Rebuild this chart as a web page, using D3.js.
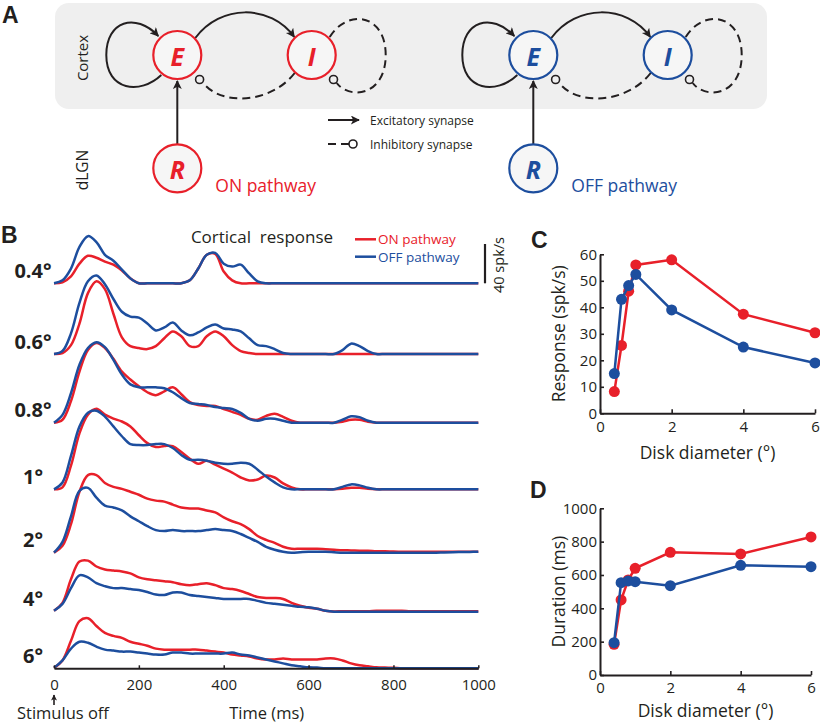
<!DOCTYPE html>
<html><head><meta charset="utf-8">
<script src="https://cdn.jsdelivr.net/npm/d3@7"></script>
<style>
body{margin:0;background:#fff}
svg{display:block}
text{font-family:'Open Sans','Noto Sans',sans-serif;fill:#231f20}
</style>
</head><body>
<svg id="fig" width="820" height="724"></svg>
<script>
// ---------------- DATA ----------------
const timeMs = [0,20,40,60,80,100,120,140,160,180,200,220,240,260,280,300,320,340,360,380,400,
  420,440,460,480,500,520,540,560,580,600,620,640,660,680,700,720,740,760,780,800,
  820,840,860,880,900,920,940,960,980,1000];
const diameterLabels = ["0.4°","0.6°","0.8°","1°","2°","4°","6°"];
// cortical response traces (spk/s), ON pathway
const on04 = [0,1,7,20,28,26,22,19,13,5, 0,0,0,0,0,0,3,15,29,30, 12,3,0,0,0,0,0,0,0,0, 0,0,0,0,0,0,0,0,0,0, 0,0,0,0,0,0,0,0,0,0,0];
const on06 = [0,1,9,31,62,74,66,41,17,8, 6,5,8,16,23,18,8,8,18,23, 18,9,3,1,0,0,0,0,0,0, 0,0,0,0,0,0,0,0,0,0, 0,0,0,0,0,0,0,0,0,0,0];
const on08 = [0,3,22,52,74,81,76,65,52,44, 37,31,28,32,36,29,21,18,17,17, 14,11,8,4,3,7,9,6,2,0, 0,0,0,0,1,3,3,1,0,0, 0,0,0,0,0,0,0,0,0,0,0];
const on1  = [0,2,24,57,76,82,76,72,69,64, 55,47,43,44,44,38,31,26,29,25, 21,17,12,9,10,14,12,6,2,0, 0,0,0,0,0.5,1.5,1.5,0.5,0,0, 0,0,0,0,0,0,0,0,0,0,0];
const on2  = [0,7,29,62,79,79,71,67,65,62, 59,55,53,52,49,46,45,45,43,41, 36,32,29,24,17,13,10,6,4,4, 4,4,3.5,3,2.5,2.3,2,2,1.5,1.5, 1.2,1,1,1,1,1,1,1,1,1,1];
const on4  = [1,9,33,51,52,46,43,42,41,39, 35,33,32,31,30,28,27,28,29,27, 24,23,21,18,15,14,14,13,9,6, 4,3,1,0.3,0.5,0.5,0.5,0.5,1,1, 1,1,0.5,0.5,0.5,0.5,0.5,0.5,0.5,0.5,0.5];
const on6  = [0.5,8,28,48,51,43,36,33,31,27, 25,23,20,19,19,19,19,19,18,17, 16,14,13,12,10,9,9,10,9,9, 9,9,10,10,8,5,3,2,1,0.7, 0.5,0,0,0,0,0,0,0,0,0,0];
// OFF pathway
const off04 = [0,3,15,37,48,42,29,23,14,5, 0,0,0,0,0,0,3,15,29,31, 20,17,19,10,2,0,0,0,0,0, 0,0,0,0,0,0,0,0,0,0, 0,0,0,0,0,0,0,0,0,0,0];
const off06 = [0,3,21,52,74,80,71,56,43,38, 37,31,24,27,32,24,19,22,27,30, 26,25,23,16,9,8,5,1,0,0, 0,0,0,0,4,10.5,8,3,0,0, 0,0,0,0,0,0,0,0,0,0,0];
const off08 = [0,8,30,59,76,82,77,64,49,39, 36,36,36,35,31,25,20,19,18,16, 15,14,10,4,2,4,4,2,0,0, 0,0,0,0,3,6.5,5.5,2,0,0, 0,0,0,0,0,0,0,0,0,0,0];
const off1  = [0,7,34,64,78,80,74,64,54,46, 45,45,46,46,42,35,30,30,29,27, 26,26,27,26,20,13,7,2,0,0, 0,0,0,0,2.5,5,4,1.5,0,0, 0,0,0,0,0,0,0,0,0,0,0];
const off2  = [0,11,37,63,66,56,48,46,43,37, 32,27,23,22,23,22,22,22,23,24, 23,22,19,15,11,6,3,1,0,0.5, 1,1,1,0.5,0,0,0,0,0,0, 0,0,0,0,0,0,0.3,0.5,0.7,0.8,1];
const off4  = [1,8,24,37,35,29,26,24,24,23, 22,20,17.5,17,19.5,19.5,17,16,15,14, 13,13,13,13,11,9,8,7,6,5, 4.5,3,1,0,0,0,0,0,0,0, 0,0,0,0,0,0,0,0,0,0,0];
const off6  = [0.5,8,20,27,26,22,19,18,17,17, 16,15,14,14,16,16,15,15,15,15, 15,16,14,13,11,9,7,5,3,2, 1,0.7,0,0,0,0,0,0,0,0, 0,0,0,0,0,0,0,0,0,0,0];
const onTraces  = [on04,on06,on08,on1,on2,on4,on6];
const offTraces = [off04,off06,off08,off1,off2,off4,off6];
const timeTicks = [0,200,400,600,800,1000];

// panels C and D
const diskDiameter = [0.4,0.6,0.8,1,2,4,6];
const responseOn  = [8.2,25.6,46.1,56,57.9,37.4,30.4];
const responseOff = [15,43,48.2,52.4,39,25,19];
const durationOn  = [184,450,570,640,736,726,828];
const durationOff = [194,554,564,560,536,658,650];
const diameterTicks = [0,2,4,6];
const responseTicks = [0,10,20,30,40,50,60];
const durationTicks = [0,200,400,600,800,1000];

// ---------------- STYLE / LAYOUT ----------------
const RED = "#e8202a", BLUE = "#1d4e9e", INK = "#231f20";
const fmt = d3.format("d");
const svg = d3.select("#fig");
const defs = svg.append("defs");
defs.append("marker").attr("id","arrow").attr("viewBox","0 0 10 10")
  .attr("refX",9).attr("refY",5).attr("markerWidth",11).attr("markerHeight",9)
  .attr("markerUnits","userSpaceOnUse").attr("orient","auto")
  .append("path").attr("d","M0,0 L10,5 L0,10 L2.5,5 z").attr("fill",INK);
defs.append("marker").attr("id","arrowS").attr("viewBox","0 0 10 10")
  .attr("refX",9).attr("refY",5).attr("markerWidth",7).attr("markerHeight",6)
  .attr("markerUnits","userSpaceOnUse").attr("orient","auto")
  .append("path").attr("d","M0,0 L10,5 L0,10 L2.5,5 z").attr("fill",INK);

function panelLetter(t, x, y){
  svg.append("text").attr("x",x).attr("y",y).text(t)
    .style("font-family","'Liberation Sans',Arial,sans-serif")
    .style("font-weight","700").style("font-size","23px");
}

// ---------------- PANEL A ----------------
panelLetter("A", 2, 23);
svg.append("rect").attr("x",55).attr("y",3).attr("width",712).attr("height",106)
  .attr("rx",14).attr("fill","#efefef");
svg.append("text").attr("transform","translate(82,58) rotate(-90)").attr("text-anchor","middle")
  .attr("dominant-baseline","central").style("font-size","15px").text("Cortex");
svg.append("text").attr("transform","translate(82,170) rotate(-90)").attr("text-anchor","middle")
  .attr("dominant-baseline","central").style("font-size","15.5px").text("dLGN");

function drawCircuit(ex, color, name){
  const ey = 55, ix = ex + 134.4, ry = 168.3, r = 24;
  const g = svg.append("g");
  g.append("path").attr("d",`M${ex-16},${ey+20} C${ex-37},${ey+40} ${ex-71},${ey+36} ${ex-71},${ey} C${ex-71},${ey-34} ${ex-42},${ey-43} ${ex-19},${ey-19}`)
    .attr("fill","none").attr("stroke",INK).attr("stroke-width",2).attr("marker-end","url(#arrow)");
  g.append("path").attr("d",`M${ex+18},${ey-17} C${ex+43},${ey-51} ${ex+93},${ey-51} ${ex+117},${ey-18}`)
    .attr("fill","none").attr("stroke",INK).attr("stroke-width",2).attr("marker-end","url(#arrow)");
  g.append("path").attr("d",`M${ix-17},${ey+18} C${ix-42},${ey+50} ${ix-92},${ey+50} ${ex+26},${ey+28}`)
    .attr("fill","none").attr("stroke",INK).attr("stroke-width",2).attr("stroke-dasharray","8,5");
  g.append("circle").attr("cx",ex+22.3).attr("cy",ey+24.5).attr("r",4)
    .attr("fill","#efefef").attr("stroke",INK).attr("stroke-width",1.6);
  g.append("path").attr("d",`M${ix+18},${ey-18} C${ix+36},${ey-47} ${ix+74},${ey-41} ${ix+74},${ey} C${ix+74},${ey+41} ${ix+38},${ey+45} ${ix+25},${ey+28}`)
    .attr("fill","none").attr("stroke",INK).attr("stroke-width",2).attr("stroke-dasharray","8,5");
  g.append("circle").attr("cx",ix+21.8).attr("cy",ey+24.5).attr("r",4)
    .attr("fill","#efefef").attr("stroke",INK).attr("stroke-width",1.6);
  g.append("line").attr("x1",ex).attr("y1",ry-r).attr("x2",ex).attr("y2",ey+r+2)
    .attr("stroke",INK).attr("stroke-width",2).attr("marker-end","url(#arrow)");
  const nodes = [["E",ex,ey],["I",ix,ey],["R",ex,ry]];
  nodes.forEach(([lab,cx,cy])=>{
    g.append("circle").attr("cx",cx).attr("cy",cy).attr("r",r)
      .attr("fill","#f6f6f6").attr("stroke",color).attr("stroke-width",2.2);
    g.append("text").attr("x",cx).attr("y",cy+1).attr("text-anchor","middle")
      .attr("dominant-baseline","central").style("font-size","25px").style("font-weight","700")
      .style("font-style","italic").style("fill",color).text(lab);
  });
  g.append("text").attr("x",ex+38).attr("y",192).style("font-size","17.5px")
    .style("fill",color).text(name);
}
drawCircuit(177.3, RED, "ON pathway");
drawCircuit(533.3, BLUE, "OFF pathway");

svg.append("line").attr("x1",328).attr("y1",120).attr("x2",359).attr("y2",120)
  .attr("stroke",INK).attr("stroke-width",2).attr("marker-end","url(#arrow)");
svg.append("text").attr("x",370).attr("y",120).attr("dominant-baseline","central")
  .style("font-size","12px").text("Excitatory synapse");
svg.append("line").attr("x1",328).attr("y1",144).attr("x2",349).attr("y2",144)
  .attr("stroke",INK).attr("stroke-width",2).attr("stroke-dasharray","8,5");
svg.append("circle").attr("cx",353).attr("cy",144).attr("r",4)
  .attr("fill","#fff").attr("stroke",INK).attr("stroke-width",1.6);
svg.append("text").attr("x",370).attr("y",144).attr("dominant-baseline","central")
  .style("font-size","12px").text("Inhibitory synapse");

// ---------------- PANEL B ----------------
panelLetter("B", 1, 243);
const xT = d3.scaleLinear().domain([0,1000]).range([54,478.3]);
const rowBase = [283.3,354,422.7,489.3,552.7,611.7,668.3];
const pxPerSpk = 39.3/40;
diameterLabels.forEach((lab,i)=>{
  const base = rowBase[i];
  const yS = d3.scaleLinear().domain([0,40]).range([base, base-40*pxPerSpk]);
  const line = d3.line().x((d,j)=>xT(timeMs[j])).y(d=>yS(d)).curve(d3.curveCatmullRom.alpha(0.5));
  svg.append("path").attr("d",line(onTraces[i])).attr("fill","none")
    .attr("stroke",RED).attr("stroke-width",2.5).attr("stroke-linejoin","round");
  svg.append("path").attr("d",line(offTraces[i])).attr("fill","none")
    .attr("stroke",BLUE).attr("stroke-width",2.5).attr("stroke-linejoin","round");
  svg.append("text").attr("x",33).attr("y",base-13).attr("text-anchor","middle")
    .attr("dominant-baseline","central").style("font-size","20px").style("font-weight","700").text(lab);
});
const axB = svg.append("g").attr("transform",`translate(0,${rowBase[6]})`)
  .call(d3.axisBottom(xT).tickValues(timeTicks).tickFormat(fmt).tickSizeInner(-3).tickSizeOuter(0).tickPadding(11));
axB.select(".domain").attr("stroke",INK).attr("stroke-width",2);
axB.selectAll(".tick line").attr("stroke",INK).attr("stroke-width",1.5);
axB.selectAll(".tick text").style("font-size","15px").style("font-family","'Open Sans',sans-serif").attr("fill",INK);
svg.append("text").attr("x",266.7).attr("y",712).attr("text-anchor","middle")
  .attr("dominant-baseline","central").style("font-size","16.5px").text("Time (ms)");
svg.append("text").attr("x",17).attr("y",712).attr("dominant-baseline","central")
  .style("font-size","16.5px").text("Stimulus off");
svg.append("line").attr("x1",xT(0)).attr("y1",705).attr("x2",xT(0)).attr("y2",695)
  .attr("stroke",INK).attr("stroke-width",1.6).attr("marker-end","url(#arrowS)");
svg.append("text").attr("x",262).attr("y",236.7).attr("text-anchor","middle")
  .attr("dominant-baseline","central").style("font-size","17px").style("white-space","pre")
  .attr("xml:space","preserve").text("Cortical  response");
[["ON pathway",RED,239.3],["OFF pathway",BLUE,256.7]].forEach(([t,c,y])=>{
  svg.append("line").attr("x1",355).attr("x2",376).attr("y1",y).attr("y2",y)
    .attr("stroke",c).attr("stroke-width",2.5);
  svg.append("text").attr("x",378).attr("y",y).attr("dominant-baseline","central")
    .style("font-size","13.5px").style("fill",c).text(t);
});
svg.append("line").attr("x1",485).attr("x2",485).attr("y1",rowBase[0]-40*pxPerSpk).attr("y2",rowBase[0])
  .attr("stroke",INK).attr("stroke-width",2.2);
svg.append("text").attr("transform",`translate(498,265) rotate(-90)`).attr("text-anchor","middle")
  .attr("dominant-baseline","central").style("font-size","14.5px").text("40 spk/s");

// ---------------- PANELS C & D ----------------
function scatterPanel(opt){
  const x = d3.scaleLinear().domain([0,6]).range([600,opt.xEnd]);
  const y = d3.scaleLinear().domain(opt.yDomain).range(opt.yRange);
  const ax = svg.append("g").attr("transform",`translate(0,${opt.yRange[0]})`)
    .call(d3.axisBottom(x).tickValues(diameterTicks).tickFormat(fmt).tickSizeInner(-4).tickSizeOuter(0).tickPadding(opt.xPad));
  const ay = svg.append("g").attr("transform",`translate(600,0)`)
    .call(d3.axisLeft(y).tickValues(opt.yTicks).tickFormat(fmt).tickSizeInner(-4).tickSizeOuter(0).tickPadding(3));
  [ax,ay].forEach(a=>{
    a.select(".domain").attr("stroke",INK).attr("stroke-width",2);
    a.selectAll(".tick line").attr("stroke",INK).attr("stroke-width",1.6);
    a.selectAll(".tick text").style("font-size","15px").style("font-family","'Open Sans',sans-serif").attr("fill",INK);
  });
  const line = d3.line().x((d,i)=>x(diskDiameter[i])).y(d=>y(d));
  [[opt.on,RED],[opt.off,BLUE]].forEach(([vals,c])=>{
    svg.append("path").attr("d",line(vals)).attr("fill","none").attr("stroke",c).attr("stroke-width",2.5);
    svg.append("g").selectAll("circle").data(vals).join("circle")
      .attr("cx",(d,i)=>x(diskDiameter[i])).attr("cy",d=>y(d)).attr("r",5.5).attr("fill",c);
  });
  svg.append("text").attr("x",(600+opt.xEnd)/2).attr("y",opt.xTitleY).attr("text-anchor","middle")
    .attr("dominant-baseline","central").style("font-size","17.5px").text("Disk diameter (°)");
  svg.append("text").attr("transform",`translate(558,${(opt.yRange[0]+opt.yRange[1])/2}) rotate(-90)`)
    .attr("text-anchor","middle").attr("dominant-baseline","central").style("font-size","17.5px").text(opt.yTitle);
}
panelLetter("C", 531, 248);
scatterPanel({xEnd:815, yDomain:[0,60], yRange:[413.3,254.3], yTicks:responseTicks, xPad:8,
  on:responseOn, off:responseOff, xTitleY:451.7, yTitle:"Response (spk/s)"});
panelLetter("D", 530, 498);
scatterPanel({xEnd:811, yDomain:[0,1000], yRange:[675,508.3], yTicks:durationTicks, xPad:7,
  on:durationOn, off:durationOff, xTitleY:710, yTitle:"Duration (ms)"});
</script>
</body></html>
